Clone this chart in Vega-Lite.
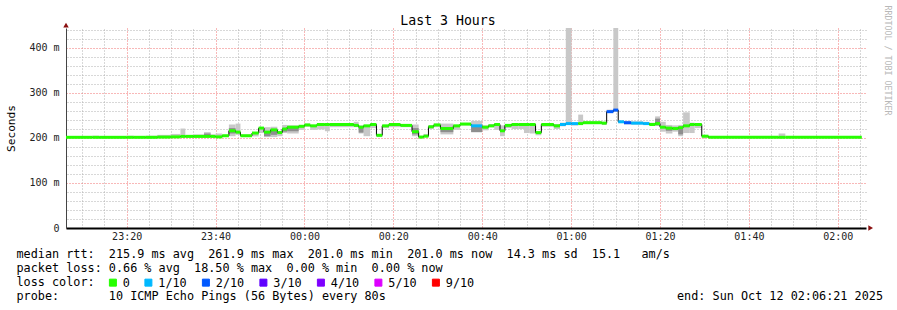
{
  "$schema": "https://vega.github.io/schema/vega-lite/v6.json",
  "width": 800,
  "height": 200,
  "autosize": {"type": "none"},
  "padding": {"left": 66, "top": 28, "right": 31, "bottom": 82},
  "background": "#ffffff",
  "config": {
    "view": {"stroke": null},
    "font": "DejaVu Sans Mono",
    "axis": {"labelFont": "DejaVu Sans Mono", "titleFont": "DejaVu Sans Mono", "titleFontWeight": "normal"},
    "legend": {"labelFont": "DejaVu Sans Mono"}
  },
  "title": {"text": "Last 3 Hours", "font": "DejaVu Sans Mono", "fontSize": 13.2, "fontWeight": "normal", "color": "#000000", "dx": -18, "baseline": "alphabetic", "offset": -33},
  "data": {"values": [
    {"t0": 6.35, "t1": 12.3, "med": 201.5, "loss": "0", "lo": 200.5, "hi": 202.5},
    {"t0": 12.3, "t1": 13.8, "med": 201.5, "loss": "0", "lo": 200.5, "hi": 205},
    {"t0": 13.8, "t1": 20.0, "med": 201.5, "loss": "0", "lo": 200.5, "hi": 202.5},
    {"t0": 20.0, "t1": 21.6, "med": 201.5, "loss": "0", "lo": 200.5, "hi": 205},
    {"t0": 21.6, "t1": 24.3, "med": 201.5, "loss": "0", "lo": 200.5, "hi": 203},
    {"t0": 24.3, "t1": 26.9, "med": 201.5, "loss": "0", "lo": 200.5, "hi": 205},
    {"t0": 26.9, "t1": 29.9, "med": 202, "loss": "0", "lo": 200.5, "hi": 207},
    {"t0": 29.9, "t1": 32.1, "med": 202.5, "loss": "0", "lo": 201, "hi": 209},
    {"t0": 32.1, "t1": 33.2, "med": 203.5, "loss": "0", "lo": 201.5, "hi": 221},
    {"t0": 33.2, "t1": 35.1, "med": 203.5, "loss": "0", "lo": 201.5, "hi": 207},
    {"t0": 35.1, "t1": 37.4, "med": 203.5, "loss": "0", "lo": 201.5, "hi": 208},
    {"t0": 37.4, "t1": 38.9, "med": 203.5, "loss": "0", "lo": 201.5, "hi": 213, "ilo": 204, "ihi": 210},
    {"t0": 38.9, "t1": 40.0, "med": 203.5, "loss": "0", "lo": 201.5, "hi": 208},
    {"t0": 40.0, "t1": 41.5, "med": 202.5, "loss": "0", "lo": 201, "hi": 210},
    {"t0": 41.5, "t1": 43.0, "med": 205, "loss": "0", "lo": 203, "hi": 207},
    {"t0": 43.0, "t1": 44.5, "med": 216, "loss": "0", "lo": 204, "hi": 230, "ilo": 210, "ihi": 222},
    {"t0": 44.5, "t1": 45.6, "med": 213, "loss": "0", "lo": 207, "hi": 232},
    {"t0": 45.6, "t1": 48.2, "med": 205, "loss": "0", "lo": 203.5, "hi": 207.5},
    {"t0": 48.2, "t1": 49.7, "med": 211, "loss": "0", "lo": 203.5, "hi": 213},
    {"t0": 49.7, "t1": 50.9, "med": 222, "loss": "0", "lo": 211, "hi": 224},
    {"t0": 50.9, "t1": 52.4, "med": 213, "loss": "0", "lo": 202, "hi": 224, "ilo": 204, "ihi": 214},
    {"t0": 52.4, "t1": 53.9, "med": 218, "loss": "0", "lo": 202, "hi": 225, "ilo": 207, "ihi": 220},
    {"t0": 53.9, "t1": 55.0, "med": 212, "loss": "0", "lo": 204, "hi": 216},
    {"t0": 55.0, "t1": 56.1, "med": 220, "loss": "0", "lo": 211, "hi": 229, "ilo": 214, "ihi": 222},
    {"t0": 56.1, "t1": 58.7, "med": 224, "loss": "0", "lo": 210, "hi": 228, "ilo": 215, "ihi": 226},
    {"t0": 58.7, "t1": 60.0, "med": 226, "loss": "0", "lo": 218, "hi": 227},
    {"t0": 60.0, "t1": 61.3, "med": 229, "loss": "0", "lo": 225, "hi": 232},
    {"t0": 61.3, "t1": 62.8, "med": 227, "loss": "0", "lo": 218, "hi": 228},
    {"t0": 62.8, "t1": 64.6, "med": 230, "loss": "0", "lo": 219, "hi": 230},
    {"t0": 64.6, "t1": 65.7, "med": 230, "loss": "0", "lo": 215, "hi": 228},
    {"t0": 65.7, "t1": 71.1, "med": 230, "loss": "0", "lo": 224, "hi": 233},
    {"t0": 71.1, "t1": 72.2, "med": 228, "loss": "0", "lo": 224, "hi": 236},
    {"t0": 72.2, "t1": 73.3, "med": 224, "loss": "0", "lo": 210, "hi": 228, "ilo": 212, "ihi": 222},
    {"t0": 73.3, "t1": 74.8, "med": 227, "loss": "0", "lo": 204, "hi": 228},
    {"t0": 74.8, "t1": 76.2, "med": 230, "loss": "0", "lo": 222, "hi": 231},
    {"t0": 76.2, "t1": 77.5, "med": 206, "loss": "0", "lo": 202, "hi": 207},
    {"t0": 77.5, "t1": 79.0, "med": 227, "loss": "0", "lo": 222, "hi": 229},
    {"t0": 79.0, "t1": 81.6, "med": 230, "loss": "0", "lo": 224, "hi": 232},
    {"t0": 81.6, "t1": 84.2, "med": 228, "loss": "0", "lo": 224, "hi": 231},
    {"t0": 84.2, "t1": 85.7, "med": 214, "loss": "0", "lo": 204, "hi": 230, "ilo": 208, "ihi": 222},
    {"t0": 85.7, "t1": 86.8, "med": 202, "loss": "0", "lo": 200, "hi": 205},
    {"t0": 86.8, "t1": 87.9, "med": 204, "loss": "0", "lo": 202, "hi": 209},
    {"t0": 87.9, "t1": 89.1, "med": 225, "loss": "0", "lo": 220, "hi": 228},
    {"t0": 89.1, "t1": 90.6, "med": 229, "loss": "0", "lo": 224, "hi": 232},
    {"t0": 90.6, "t1": 93.5, "med": 221, "loss": "0", "lo": 208, "hi": 232, "ilo": 213, "ihi": 224},
    {"t0": 93.5, "t1": 95.0, "med": 227, "loss": "0", "lo": 218, "hi": 229},
    {"t0": 95.0, "t1": 97.5, "med": 231, "loss": "0", "lo": 228, "hi": 233},
    {"t0": 97.5, "t1": 100.0, "med": 227, "loss": "1/10", "lo": 213, "hi": 238, "ilo": 213, "ihi": 225},
    {"t0": 100.0, "t1": 101.4, "med": 224, "loss": "0", "lo": 217, "hi": 228},
    {"t0": 101.4, "t1": 102.7, "med": 227, "loss": "0", "lo": 224, "hi": 231},
    {"t0": 102.7, "t1": 104.0, "med": 230, "loss": "0", "lo": 218, "hi": 231},
    {"t0": 104.0, "t1": 105.1, "med": 216, "loss": "0", "lo": 204, "hi": 228},
    {"t0": 105.1, "t1": 106.6, "med": 228, "loss": "0", "lo": 222, "hi": 231},
    {"t0": 106.6, "t1": 108.1, "med": 230, "loss": "0", "lo": 220, "hi": 231},
    {"t0": 108.1, "t1": 109.4, "med": 230, "loss": "0", "lo": 220, "hi": 229},
    {"t0": 109.4, "t1": 110.7, "med": 230, "loss": "0", "lo": 211, "hi": 230},
    {"t0": 110.7, "t1": 112.0, "med": 230, "loss": "0", "lo": 210, "hi": 230},
    {"t0": 112.0, "t1": 113.3, "med": 212, "loss": "0", "lo": 206, "hi": 214},
    {"t0": 113.3, "t1": 116.1, "med": 230, "loss": "0", "lo": 225, "hi": 232},
    {"t0": 116.1, "t1": 117.5, "med": 227, "loss": "0", "lo": 220, "hi": 231},
    {"t0": 117.5, "t1": 118.8, "med": 230, "loss": "1/10", "lo": 226, "hi": 234},
    {"t0": 118.8, "t1": 120.1, "med": 232, "loss": "1/10", "lo": 229, "hi": 444.4},
    {"t0": 120.1, "t1": 121.6, "med": 232, "loss": "1/10", "lo": 228, "hi": 233},
    {"t0": 121.6, "t1": 122.7, "med": 232, "loss": "0", "lo": 232, "hi": 252},
    {"t0": 122.7, "t1": 126.9, "med": 234, "loss": "0", "lo": 231, "hi": 237},
    {"t0": 126.9, "t1": 128.0, "med": 233, "loss": "0", "lo": 229, "hi": 236},
    {"t0": 128.0, "t1": 129.5, "med": 258.5, "loss": "2/10", "lo": 256, "hi": 263},
    {"t0": 129.5, "t1": 130.6, "med": 262, "loss": "2/10", "lo": 258, "hi": 444.4},
    {"t0": 130.6, "t1": 131.9, "med": 236, "loss": "1/10", "lo": 234, "hi": 238},
    {"t0": 131.9, "t1": 133.5, "med": 234, "loss": "2/10", "lo": 230, "hi": 238},
    {"t0": 133.5, "t1": 136.2, "med": 233, "loss": "1/10", "lo": 230, "hi": 237},
    {"t0": 136.2, "t1": 137.6, "med": 232, "loss": "1/10", "lo": 229, "hi": 236},
    {"t0": 137.6, "t1": 138.9, "med": 230, "loss": "0", "lo": 228, "hi": 234},
    {"t0": 138.9, "t1": 140.0, "med": 232, "loss": "0", "lo": 227, "hi": 248, "ilo": 228, "ihi": 243},
    {"t0": 140.0, "t1": 141.3, "med": 224, "loss": "0", "lo": 214, "hi": 236},
    {"t0": 141.3, "t1": 142.8, "med": 222, "loss": "0", "lo": 210, "hi": 229, "ilo": 216, "ihi": 224},
    {"t0": 142.8, "t1": 144.1, "med": 221, "loss": "0", "lo": 214, "hi": 228},
    {"t0": 144.1, "t1": 145.2, "med": 223, "loss": "0", "lo": 204, "hi": 229, "ilo": 208, "ihi": 222},
    {"t0": 145.2, "t1": 146.7, "med": 227, "loss": "0", "lo": 211, "hi": 257},
    {"t0": 146.7, "t1": 147.8, "med": 230, "loss": "0", "lo": 211, "hi": 234},
    {"t0": 147.8, "t1": 149.4, "med": 230, "loss": "0", "lo": 222, "hi": 233},
    {"t0": 149.4, "t1": 150.9, "med": 204, "loss": "0", "lo": 200.5, "hi": 205},
    {"t0": 150.9, "t1": 166.7, "med": 201.5, "loss": "0", "lo": 200.5, "hi": 202.5},
    {"t0": 166.7, "t1": 168.2, "med": 201.5, "loss": "0", "lo": 200.5, "hi": 210},
    {"t0": 168.2, "t1": 185.4, "med": 201.5, "loss": "0", "lo": 200.5, "hi": 202.5}
  ]},
  "layer": [
    {
      "mark": {"type": "rect", "color": "#c8c8c8"},
      "encoding": {
        "x": {"field": "t0", "type": "quantitative",
              "scale": {"domain": [6.35, 186.35], "nice": false, "zero": false},
              "axis": {"orient": "top", "values": [10, 15, 25, 30, 35, 45, 50, 55, 65, 70, 75, 85, 90, 95, 105, 110, 115, 125, 130, 135, 145, 150, 155, 165, 170, 175, 185], "labels": false, "ticks": false, "domain": false, "title": null, "grid": true, "gridColor": "#b0b0b0", "gridDash": [1, 2], "gridWidth": 1}},
        "x2": {"field": "t1"},
        "y": {"field": "lo", "type": "quantitative",
              "scale": {"domain": [0, 444.4], "nice": false},
              "axis": {"orient": "right", "values": [20, 40, 60, 80, 120, 140, 160, 180, 220, 240, 260, 280, 320, 340, 360, 380, 420, 440], "labels": false, "ticks": false, "domain": false, "grid": true, "gridColor": "#b0b0b0", "gridDash": [1, 2], "gridWidth": 1,
                       "title": "RRDTOOL / TOBI OETIKER", "titleFontSize": 8.3, "titleColor": "#b8b8b8", "titleAngle": 90, "titleAlign": "left", "titleBaseline": "middle", "titleX": 20, "titleY": -23}},
        "y2": {"field": "hi"}
      }
    },
    {
      "transform": [{"filter": "isValid(datum.ilo)"}],
      "mark": {"type": "rect", "color": "#8e8e8e"},
      "encoding": {
        "x": {"field": "t0", "type": "quantitative", "axis": null, "scale": {"domain": [6.35, 186.35], "nice": false, "zero": false}},
        "x2": {"field": "t1"},
        "y": {"field": "ilo", "type": "quantitative", "axis": null, "scale": {"domain": [0, 444.4], "nice": false}},
        "y2": {"field": "ihi"}
      }
    },
    {
      "mark": {"type": "line", "interpolate": "step-after", "color": "#000000", "strokeWidth": 1},
      "encoding": {
        "x": {"field": "t0", "type": "quantitative",
              "scale": {"domain": [6.35, 186.35], "nice": false, "zero": false},
              "axis": {"orient": "bottom", "values": [20, 40, 60, 80, 100, 120, 140, 160, 180], "labelExpr": "(floor((1380 + datum.value) / 60) % 24 < 10 ? '0' : '') + (floor((1380 + datum.value) / 60) % 24) + ':' + ((datum.value % 60) < 10 ? '0' : '') + (datum.value % 60)", "labelFontSize": 10, "labelColor": "#222222", "labelPadding": 3, "labelBaseline": "top", "ticks": false, "domain": true, "domainColor": "#000000", "domainWidth": 2, "grid": true, "gridColor": "#f07070", "gridDash": [1, 2], "gridWidth": 1, "labelFlush": false, "labelOverlap": false,
                       "title": ["median rtt:\u00a0\u00a0215.9 ms avg\u00a0\u00a0261.9 ms max\u00a0\u00a0201.0 ms min\u00a0\u00a0201.0 ms now\u00a0\u00a014.3 ms sd\u00a0\u00a015.1\u00a0\u00a0\u00a0am/s", "packet loss: 0.66 % avg\u00a0\u00a018.50 % max\u00a0\u00a00.00 % min\u00a0\u00a00.00 % now", "loss color:", "probe:\u00a0\u00a0\u00a0\u00a0\u00a0\u00a0\u00a010 ICMP Echo Pings (56 Bytes) every 80s\u00a0\u00a0\u00a0\u00a0\u00a0\u00a0\u00a0\u00a0\u00a0\u00a0\u00a0\u00a0\u00a0\u00a0\u00a0\u00a0\u00a0\u00a0\u00a0\u00a0\u00a0\u00a0\u00a0\u00a0\u00a0\u00a0\u00a0\u00a0\u00a0\u00a0\u00a0\u00a0\u00a0\u00a0\u00a0\u00a0\u00a0\u00a0\u00a0\u00a0\u00a0end: Sun Oct 12 02:06:21 2025"],
                       "titleFontSize": 11.8, "titleColor": "#000000", "titleAlign": "left", "titleAnchor": "start", "titleBaseline": "alphabetic", "titleX": -50, "titleY": 29.7, "titleLineHeight": 14.1}},
        "y": {"field": "med", "type": "quantitative",
              "scale": {"domain": [0, 444.4], "nice": false},
              "axis": {"orient": "left", "values": [0, 100, 200, 300, 400], "labelExpr": "datum.value == 0 ? '0' : datum.value + ' m'", "labelFontSize": 10, "labelColor": "#222222", "labelPadding": 7, "ticks": false, "domain": true, "domainColor": "#444444", "domainWidth": 1, "grid": true, "gridColor": "#f07070", "gridDash": [1, 2], "gridWidth": 1,
                       "title": "Seconds", "titleFontSize": 11.2, "titleColor": "#000000", "titleAngle": -90, "titleAlign": "center", "titleBaseline": "middle", "titleX": -55, "titleY": 100}}
      }
    },
    {
      "mark": {"type": "rule", "strokeWidth": 3, "strokeCap": "butt"},
      "encoding": {
        "x": {"field": "t0", "type": "quantitative", "axis": null, "scale": {"domain": [6.35, 186.35], "nice": false, "zero": false}},
        "x2": {"field": "t1"},
        "y": {"field": "med", "type": "quantitative", "axis": null, "scale": {"domain": [0, 444.4], "nice": false}},
        "color": {"field": "loss", "type": "nominal",
                  "scale": {"domain": ["0", "1/10", "2/10", "3/10", "4/10", "5/10", "9/10"], "range": ["#26ff00", "#00b8ff", "#0059ff", "#5e00ff", "#7e00ff", "#dd00ff", "#ff0000"]},
                  "legend": {"orient": "none", "legendX": 41, "legendY": 248.6, "direction": "horizontal", "title": null, "padding": 0,
                             "symbolType": "square", "symbolSize": 49, "symbolStrokeWidth": 1, "labelOffset": 4, "columnPadding": 12.5,
                             "labelFontSize": 11.8, "labelColor": "#000000", "labelBaseline": "middle",
                             "encode": {"symbols": {"update": {"fill": {"scale": "color", "field": "value"}, "fillOpacity": {"value": 1}, "stroke": {"value": "#000000"}, "strokeWidth": {"value": 1}}}}}}
      }
    },
    {
      "data": {"values": [{}]},
      "mark": {"type": "point", "shape": "triangle-up", "filled": true, "size": 30, "color": "#8b1010", "opacity": 1},
      "encoding": {
        "x": {"datum": 6.35, "type": "quantitative", "axis": null, "scale": {"domain": [6.35, 186.35], "nice": false, "zero": false}},
        "y": {"datum": 451, "type": "quantitative", "axis": null, "scale": {"domain": [0, 444.4], "nice": false}}
      }
    },
    {
      "data": {"values": [{}]},
      "mark": {"type": "point", "shape": "triangle-right", "filled": true, "size": 30, "color": "#8b1010", "opacity": 1},
      "encoding": {
        "x": {"datum": 187.4, "type": "quantitative", "axis": null, "scale": {"domain": [6.35, 186.35], "nice": false, "zero": false}},
        "y": {"datum": 0, "type": "quantitative", "axis": null, "scale": {"domain": [0, 444.4], "nice": false}}
      }
    }
  ],
  "resolve": {"axis": {"x": "independent", "y": "independent"}}
}
